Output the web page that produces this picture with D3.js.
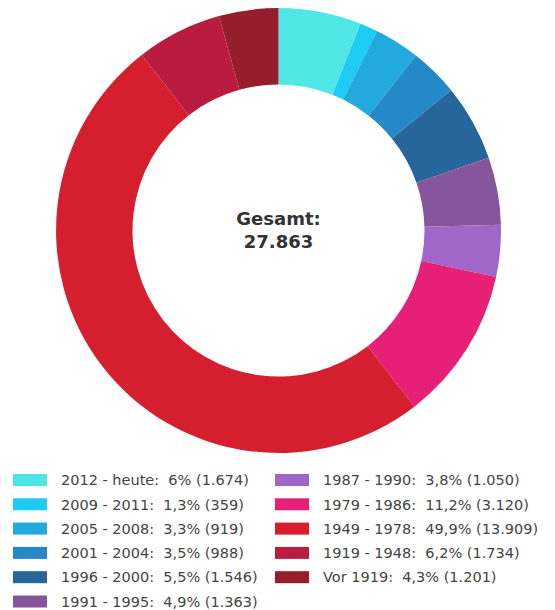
<!DOCTYPE html>
<html>
<meta charset="utf-8">
<script src="https://d3js.org/d3.v7.js"></script>
<style>
    body { margin: 0; background: #fff; }
    text { font-family: "DejaVu Sans", sans-serif; }
</style>
<body>
    <div id="my_donut"></div>
    <script>

        // data
        var periods = ["2012 - heute", "2009 - 2011", "2005 - 2008", "2001 - 2004", "1996 - 2000",
            "1991 - 1995", "1987 - 1990", "1979 - 1986", "1949 - 1978", "1919 - 1948", "Vor 1919"];
        var counts = [1674, 359, 919, 988, 1546, 1363, 1050, 3120, 13909, 1734, 1201];
        var shares = ["6%", "1,3%", "3,3%", "3,5%", "5,5%", "4,9%", "3,8%", "11,2%", "49,9%", "6,2%", "4,3%"];
        var colors = ["#4ee7e6", "#1ecbf2", "#22a9dd", "#2489c6", "#26669a",
            "#86559c", "#a067c8", "#e62076", "#d51f2e", "#ba1c41", "#951e2c"];

        var width = 555, height = 610;
        var cx = 278.5, cy = 230.5, outerR = 222.5, innerR = 146;

        var svg = d3.select("#my_donut")
            .append("svg")
            .attr("width", width)
            .attr("height", height);

        var de = d3.formatLocale({ decimal: ",", thousands: ".", grouping: [3], currency: ["", " €"] });
        var fmt = de.format(",d");

        var items = periods.map(function (p, i) {
            return { label: p, value: counts[i], share: shares[i], color: colors[i] };
        });

        var pie = d3.pie().sort(null).value(function (d) { return d.value; });
        var arc = d3.arc().innerRadius(innerR).outerRadius(outerR);

        var g = svg.append("g")
            .attr("transform", "translate(" + cx + "," + cy + ")");

        g.selectAll("path")
            .data(pie(items))
            .enter()
            .append("path")
            .attr("d", arc)
            .attr("fill", function (d) { return d.data.color; });

        // center label
        g.append("text")
            .attr("text-anchor", "middle")
            .attr("y", -6)
            .style("font-size", "18px")
            .style("font-weight", "bold")
            .style("fill", "#333")
            .text("Gesamt:");
        g.append("text")
            .attr("text-anchor", "middle")
            .attr("y", 17)
            .style("font-size", "18px")
            .style("font-weight", "bold")
            .style("fill", "#333")
            .text(fmt(d3.sum(counts)));

        // legend
        var rowH = 24.3, legendTop = 480;
        var legend = svg.selectAll(".leg")
            .data(items)
            .enter()
            .append("g")
            .attr("class", "leg")
            .attr("transform", function (d, i) {
                var col = i < 6 ? 0 : 1;
                var row = i < 6 ? i : i - 6;
                return "translate(" + (col ? 275 : 13) + "," + (legendTop + row * rowH) + ")";
            });

        legend.append("rect")
            .attr("x", 0)
            .attr("y", -6)
            .attr("width", 34)
            .attr("height", 12)
            .attr("fill", function (d) { return d.color; });

        legend.append("text")
            .attr("x", 48)
            .attr("y", 0)
            .attr("dy", "0.36em")
            .style("font-size", "14.5px")
            .style("fill", "#444")
            .style("white-space", "pre")
            .text(function (d) { return d.label + ":  " + d.share + " (" + fmt(d.value) + ")"; });

    </script>
</body>

</html>
